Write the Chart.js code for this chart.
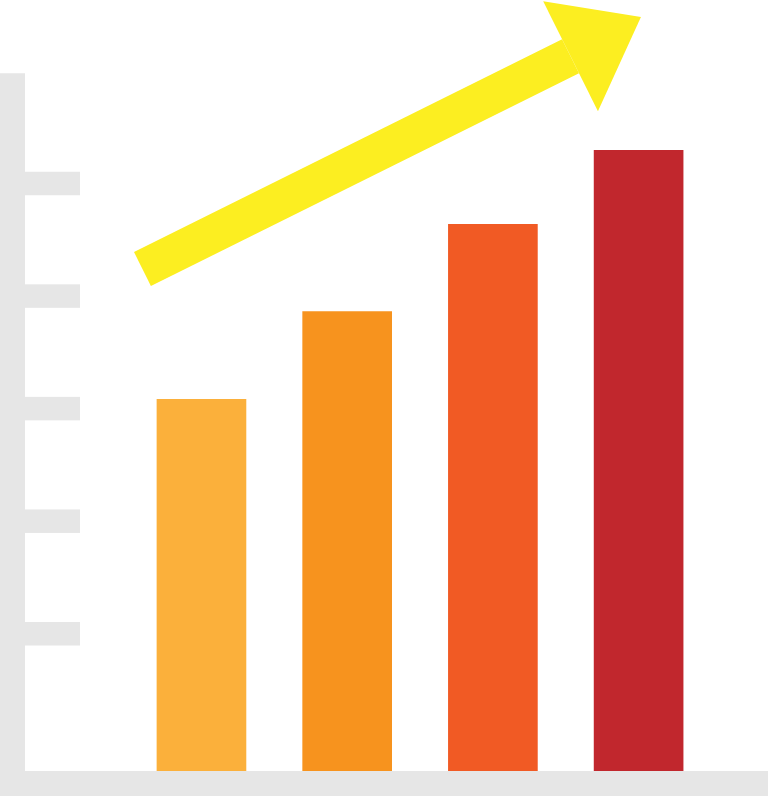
<!DOCTYPE html>
<html lang="en">
<head>
    <meta charset="UTF-8">
    <title>Growth chart</title>
    <script src="https://cdn.jsdelivr.net/npm/chart.js"></script>
    <style>
        html, body {
            margin: 0;
            padding: 0;
            background: #ffffff;
        }
        #growthChart {
            display: block;
        }
    </style>
</head>
<body>
    <canvas id="growthChart" width="768" height="796"></canvas>
    <script>
        // data
        var categories = ['1', '2', '3', '4'];
        var barX = [1, 2, 3, 4];
        var barValues = [48.2, 59.6, 70.9, 80.5];
        var barColors = ['#FBB03B', '#F7931E', '#F15A24', '#C1272D'];

        // grey tick marks on the left axis
        var tickValues = [17.8, 32.4, 47.0, 61.6, 76.2];
        var axisTop = 90.5;

        // arrow: shaft from tail to head base, then tip
        var arrowX = [0.595, 3.533];
        var arrowY = [65.1, 92.7];
        var arrowTipX = 4.016;
        var arrowTipY = 97.8;

        var grey = '#E6E6E6';
        var yellow = '#FCEE21';

        // grey axis bars + ticks, drawn with the chart's scales
        var axisPlugin = {
            id: 'greyAxis',
            beforeDatasetsDraw: function(chart) {
                var ctx = chart.ctx;
                var area = chart.chartArea;
                var y = chart.scales.y;
                ctx.save();
                ctx.fillStyle = grey;
                var top = y.getPixelForValue(axisTop);
                ctx.fillRect(area.left - 25, top, 25, chart.height - top);
                ctx.fillRect(0, area.bottom, chart.width, chart.height - area.bottom);
                tickValues.forEach(function(v) {
                    var py = y.getPixelForValue(v);
                    ctx.fillRect(area.left, py - 11.75, 55, 23.5);
                });
                ctx.restore();
            },
            afterDatasetsDraw: function(chart) {
                // arrow head at the end of the shaft
                var ctx = chart.ctx;
                var x = chart.scales.x;
                var y = chart.scales.y;
                var x0 = x.getPixelForValue(arrowX[0]), y0 = y.getPixelForValue(arrowY[0]);
                var x1 = x.getPixelForValue(arrowX[1]), y1 = y.getPixelForValue(arrowY[1]);
                var tx = x.getPixelForValue(arrowTipX), ty = y.getPixelForValue(arrowTipY);
                var len = Math.hypot(x1 - x0, y1 - y0);
                var px = -(y1 - y0) / len, py = (x1 - x0) / len;
                var half = 61.5;
                ctx.save();
                ctx.fillStyle = yellow;
                ctx.beginPath();
                ctx.moveTo(x1 + px * half, y1 + py * half);
                ctx.lineTo(tx, ty);
                ctx.lineTo(x1 - px * half, y1 - py * half);
                ctx.closePath();
                ctx.fill();
                ctx.restore();
            }
        };

        var barData = barX.map(function(v, i) {
            return { x: v, y: barValues[i] };
        });
        var arrowData = arrowX.map(function(v, i) {
            return { x: v, y: arrowY[i] };
        });

        var ctx = document.getElementById('growthChart').getContext('2d');
        new Chart(ctx, {
            type: 'bar',
            data: {
                labels: categories,
                datasets: [
                    {
                        label: 'bars',
                        data: barData,
                        backgroundColor: barColors,
                        borderWidth: 0,
                        barThickness: 89,
                        order: 2
                    },
                    {
                        type: 'line',
                        label: 'arrow',
                        data: arrowData,
                        borderColor: yellow,
                        borderWidth: 38,
                        borderCapStyle: 'butt',
                        pointRadius: 0,
                        fill: false,
                        clip: false,
                        order: 1
                    }
                ]
            },
            options: {
                responsive: false,
                animation: false,
                layout: {
                    padding: { left: 25, right: 0, top: 0, bottom: 25 }
                },
                plugins: {
                    legend: { display: false },
                    tooltip: { enabled: false }
                },
                scales: {
                    x: {
                        type: 'linear',
                        min: -0.211,
                        max: 4.888,
                        offset: false,
                        display: false
                    },
                    y: {
                        min: 0,
                        max: 100,
                        display: false
                    }
                }
            },
            plugins: [axisPlugin]
        });
    </script>
</body>
</html>
